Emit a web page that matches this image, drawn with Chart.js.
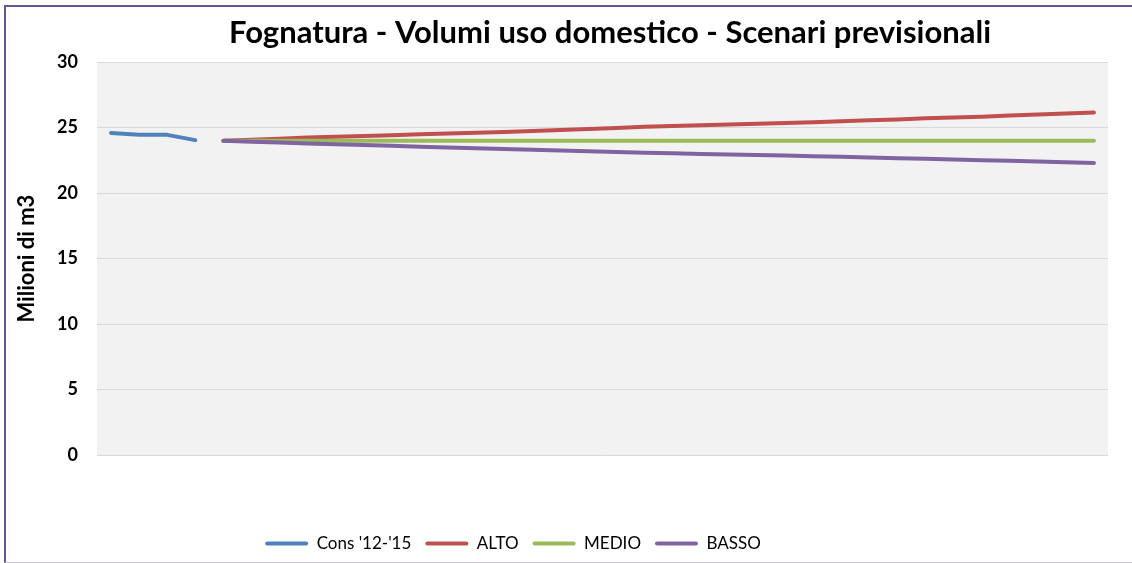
<!DOCTYPE html>
<html lang="it">
<head>
<meta charset="utf-8">
<title>Fognatura - Volumi uso domestico</title>
<script src="https://cdn.jsdelivr.net/npm/chart.js@4.4.1/dist/chart.umd.min.js"></script>
<style>
    html, body { margin: 0; padding: 0; background: #fff; overflow: hidden; }
    #wrap { position: relative; width: 1132px; height: 563px; }
    #frame {
        position: absolute; left: 4px; top: 5px; width: 1140px; height: 555px;
        border-top: 2px solid #6b5590; border-left: 2px solid #6b5590; border-bottom: 1px solid #c8c4d6;
        pointer-events: none;
    }
    canvas { position: absolute; left: 0; top: 0; }
</style>
</head>
<body>
<div id="wrap">
    <canvas id="fognatura" width="1132" height="563"></canvas>
    <div id="frame"></div>
</div>
<script>
// <-- Data -->
const years = [
    2012, 2013, 2014, 2015, 2016, 2017, 2018, 2019, 2020, 2021, 2022, 2023,
    2024, 2025, 2026, 2027, 2028, 2029, 2030, 2031, 2032, 2033, 2034, 2035,
    2036, 2037, 2038, 2039, 2040, 2041, 2042, 2043, 2044, 2045, 2046, 2047
];
const cons = [
    24.60, 24.45, 24.45, 24.05, null, null, null, null, null, null, null, null,
    null, null, null, null, null, null, null, null, null, null, null, null,
    null, null, null, null, null, null, null, null, null, null, null, null
];
const alto = [
    null, null, null, null, 24.00, 24.08, 24.16, 24.24, 24.31, 24.36, 24.43, 24.50,
    24.56, 24.62, 24.67, 24.75, 24.83, 24.90, 24.98, 25.07, 25.13, 25.18, 25.24, 25.30,
    25.36, 25.42, 25.49, 25.56, 25.63, 25.71, 25.78, 25.84, 25.92, 26.00, 26.08, 26.16
];
const medio = [
    null, null, null, null, 24.00, 24.00, 24.00, 24.00, 24.00, 24.00, 24.00, 24.00,
    24.00, 24.00, 24.00, 24.00, 24.00, 24.00, 24.00, 24.00, 24.00, 24.00, 24.00, 24.00,
    24.00, 24.00, 24.00, 24.00, 24.00, 24.00, 24.00, 24.00, 24.00, 24.00, 24.00, 24.00
];
const basso = [
    null, null, null, null, 24.00, 23.93, 23.86, 23.80, 23.73, 23.67, 23.61, 23.55,
    23.49, 23.43, 23.37, 23.31, 23.25, 23.19, 23.14, 23.09, 23.04, 22.99, 22.95, 22.91,
    22.87, 22.82, 22.77, 22.72, 22.67, 22.62, 22.57, 22.52, 22.47, 22.41, 22.36, 22.31
];
const yTicks = [0, 5, 10, 15, 20, 25, 30];

(function () {
    function el(id) { return document.getElementById(id); }

    function line(label, data, color, order) {
        return {
            label,
            data,
            borderColor: color,
            backgroundColor: color,
            borderWidth: 4,
            borderCapStyle: 'round',
            borderJoinStyle: 'round',
            pointRadius: 0,
            pointHoverRadius: 0,
            tension: 0,
            fill: false,
            spanGaps: false,
            order
        };
    }

    // <-- grey plot area -->
    const plotBg = {
        id: 'plotBg',
        beforeDraw(chart) {
            const { ctx, chartArea: a } = chart;
            ctx.save();
            ctx.fillStyle = '#f2f2f2';
            ctx.fillRect(a.left, a.top, a.right - a.left, a.bottom - a.top);
            ctx.restore();
        }
    };

    // <-- title and legend are off-centre in the Excel original -->
    const boxPlace = {
        id: 'boxPlace',
        afterLayout(chart) {
            const t = chart.titleBlock;
            if (t) {
                t.left += 98;
                t.width = t.right - t.left;
            }
            const lg = chart.legend;
            if (lg) {
                const h = lg.bottom - lg.top;
                lg.top = 521;
                lg.bottom = 521 + h;
                lg.right = 2 * 513 - lg.left;
                lg.width = lg.right - lg.left;
            }
        }
    };

    Chart.defaults.font.family = 'Lato, "Open Sans", sans-serif';
    Chart.defaults.color = '#000';

    new Chart(el('fognatura'), {
        type: 'line',
        data: {
            labels: years,
            datasets: [
                line("Cons '12-'15", cons, '#4f81bd', 4),
                line('ALTO', alto, '#c0504d', 3),
                line('MEDIO', medio, '#9bbb59', 2),
                line('BASSO', basso, '#8064a2', 1)
            ]
        },
        options: {
            responsive: false,
            animation: false,
            layout: { padding: { top: 0, right: 24, bottom: 0, left: 14 } },
            scales: {
                x: {
                    offset: true,
                    grid: { display: false },
                    border: { display: false },
                    ticks: { display: false },
                    afterFit(s) { s.height = 67; }
                },
                y: {
                    min: 0,
                    max: 30,
                    afterBuildTicks(s) { s.ticks = yTicks.map(v => ({ value: v })); },
                    grid: { color: '#d9d9d9', lineWidth: 1, drawTicks: false },
                    border: { display: false },
                    ticks: { padding: 19, font: { size: 18, weight: 'bold' } },
                    title: {
                        display: true,
                        text: 'Milioni di m3',
                        font: { size: 22, weight: 'bold' },
                        padding: { top: 0, bottom: 0 }
                    },
                    afterFit(s) { s.width = 83; }
                }
            },
            plugins: {
                title: {
                    display: true,
                    text: 'Fognatura - Volumi uso domestico - Scenari previsionali',
                    font: { size: 31, weight: 'bold' },
                    padding: { top: 14, bottom: 11 }
                },
                legend: {
                    position: 'bottom',
                    labels: {
                        boxWidth: 43,
                        boxHeight: 4,
                        padding: 14,
                        font: { size: 17 },
                        sort: (a, b) => a.datasetIndex - b.datasetIndex,
                        generateLabels(chart) {
                            return Chart.defaults.plugins.legend.labels.generateLabels(chart)
                                .map(l => Object.assign(l, { lineWidth: 0, borderRadius: 2 }));
                        }
                    }
                },
                tooltip: { enabled: false }
            }
        },
        plugins: [plotBg, boxPlace]
    });
})();
</script>
</body>
</html>
